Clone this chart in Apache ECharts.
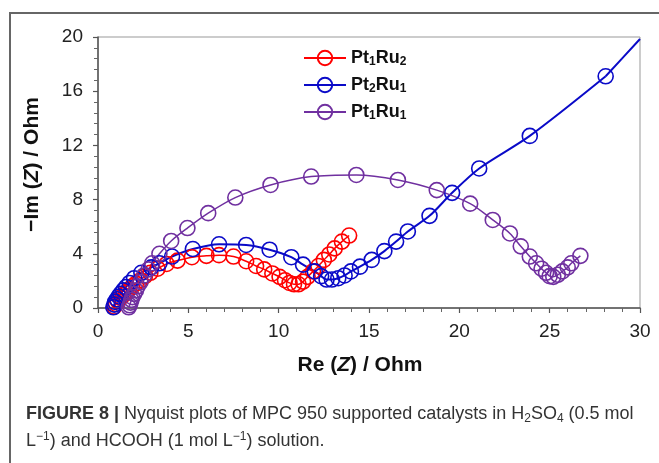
<!DOCTYPE html>
<html>
<head>
<meta charset="utf-8">
<script src="https://cdn.jsdelivr.net/npm/echarts@6/dist/echarts.min.js"></script>
<style>
  html, body { margin: 0; padding: 0; background: #fff; }
  #frame { position: absolute; left: 9px; top: 12px; width: 660px; height: 460px;
           border-top: 2px solid #666; border-left: 2px solid #666; }
  #main { position: absolute; left: 0; top: 0; width: 659px; height: 463px; }
</style>
</head>
<body>
<div id="frame"></div>
<div id="main"></div>
<script>
// Pt1Ru2 (red)
const pt1ru2Re = [0.9, 1.0, 1.1, 1.25, 1.4, 1.55, 1.7, 1.9, 2.1, 2.35, 2.6, 2.9, 3.3, 3.8, 4.4, 5.2, 6.0, 6.7, 7.5, 8.2, 8.75, 9.2, 9.65, 10.05, 10.35, 10.6, 10.85, 11.1, 11.35, 11.6, 11.9, 12.2, 12.5, 12.8, 13.1, 13.5, 13.9];
const pt1ru2Im = [0.1, 0.3, 0.5, 0.75, 0.95, 1.15, 1.35, 1.6, 1.8, 2.05, 2.35, 2.6, 2.9, 3.25, 3.5, 3.75, 3.85, 3.9, 3.8, 3.45, 3.1, 2.85, 2.55, 2.3, 2.05, 1.85, 1.75, 1.75, 1.95, 2.3, 2.7, 3.1, 3.55, 3.95, 4.4, 4.9, 5.35];
// Pt2Ru1 (blue)
const pt2ru1Re = [0.85, 0.9, 0.95, 1.05, 1.15, 1.25, 1.4, 1.55, 1.75, 2.0, 2.4, 2.95, 3.4, 4.1, 5.25, 6.7, 8.2, 9.5, 10.7, 11.35, 12.0, 12.35, 12.65, 12.95, 13.3, 13.65, 14.0, 14.5, 15.15, 15.85, 16.5, 17.15, 18.35, 19.6, 21.1, 23.9, 28.1];
const pt2ru1Im = [0.05, 0.25, 0.45, 0.65, 0.85, 1.05, 1.3, 1.55, 1.85, 2.2, 2.6, 3.0, 3.3, 3.8, 4.35, 4.7, 4.65, 4.3, 3.75, 3.2, 2.7, 2.35, 2.1, 2.1, 2.2, 2.4, 2.7, 3.05, 3.55, 4.2, 4.9, 5.65, 6.8, 8.5, 10.3, 12.7, 17.1];
// fitted curve tail of Pt2Ru1 beyond the last point
const pt2ru1TailRe = [28.1, 29.0, 30.0];
const pt2ru1TailIm = [17.1, 18.4, 19.85];
// Pt1Ru1 (purple)
const pt1ru1Re = [1.7, 1.75, 1.8, 1.85, 1.9, 2.0, 2.1, 2.2, 2.35, 2.55, 2.8, 3.0, 3.4, 4.05, 4.95, 6.1, 7.6, 9.55, 11.8, 14.3, 16.6, 18.75, 20.6, 21.85, 22.8, 23.4, 23.9, 24.25, 24.55, 24.8, 25.0, 25.2, 25.45, 25.7, 26.0, 26.2, 26.7];
const pt1ru1Im = [0.05, 0.2, 0.4, 0.6, 0.8, 1.05, 1.3, 1.6, 1.9, 2.4, 2.85, 3.3, 4.0, 4.95, 5.9, 7.0, 8.15, 9.08, 9.7, 9.82, 9.45, 8.7, 7.7, 6.5, 5.5, 4.55, 3.8, 3.3, 2.9, 2.6, 2.35, 2.3, 2.45, 2.7, 3.0, 3.3, 3.85];

const xTicks = [0, 5, 10, 15, 20, 25, 30];
const yTicks = [0, 4, 8, 12, 16, 20];

const zip = (a, b) => a.map((v, i) => [v, b[i]]);

const legendNames = {
  Pt1Ru2: '{b|Pt}{s|1}{b|Ru}{s|2}',
  Pt2Ru1: '{b|Pt}{s|2}{b|Ru}{s|1}',
  Pt1Ru1: '{b|Pt}{s|1}{b|Ru}{s|1}'
};

function curve(name, color, re, im, width) {
  return {
    name: name,
    type: 'line',
    smooth: 0.3,
    symbol: 'circle',
    symbolSize: 15,
    showAllSymbol: true,
    itemStyle: { color: 'rgba(255,255,255,0)', borderColor: color, borderWidth: 1.6 },
    lineStyle: { color: color, width: width },
    z: 3,
    data: zip(re, im)
  };
}

const capFont = 'Liberation Sans, Arial, sans-serif';
const chart = echarts.init(document.getElementById('main'));
chart.setOption({
  backgroundColor: 'transparent',
  animation: false,
  textStyle: { fontFamily: 'Liberation Sans, Arial, sans-serif' },
  title: {
    left: 21,
    top: 396,
    text: '{fb|FIGURE 8 |} {n|Nyquist plots of MPC 950 supported catalysts in H}{sub|2}{n|SO}{sub|4}{n| (0.5 mol}\n' +
          '{n|L}{sup|−1}{n|) and HCOOH (1 mol L}{sup|−1}{n|) solution.}',
    textStyle: {
      rich: {
        fb: { fontFamily: capFont, fontWeight: 'bold', fontSize: 18, color: '#333', lineHeight: 27 },
        n: { fontFamily: capFont, fontWeight: 'normal', fontSize: 18, color: '#333', lineHeight: 27 },
        sub: { fontFamily: capFont, fontWeight: 'normal', fontSize: 12, color: '#333', padding: [9, 0, 0, 0] },
        sup: { fontFamily: capFont, fontWeight: 'normal', fontSize: 12, color: '#333', padding: [0, 0, 9, 0] }
      }
    }
  },
  legend: {
    orient: 'vertical',
    left: 298,
    top: 44,
    itemWidth: 42,
    itemHeight: 18,
    itemGap: 8,
    data: ['Pt1Ru2', 'Pt2Ru1', 'Pt1Ru1'],
    formatter: name => legendNames[name],
    textStyle: {
      rich: {
        b: { fontSize: 18, fontWeight: 'bold', color: '#111' },
        s: { fontSize: 12, fontWeight: 'bold', color: '#111', padding: [8, 0, 0, 0] }
      }
    }
  },
  grid: {
    left: 98, right: 19, top: 37, bottom: 155,
    show: true, borderColor: '#999', borderWidth: 1
  },
  xAxis: {
    type: 'value',
    min: xTicks[0], max: xTicks[xTicks.length - 1], interval: 5,
    name: '{b|Re (}{i|Z}{b|) / Ohm}',
    nameLocation: 'middle',
    nameGap: 47,
    nameTextStyle: {
      padding: [0, 18, 0, 0],
      rich: {
        b: { fontSize: 21, fontWeight: 'bold', color: '#111' },
        i: { fontSize: 21, fontWeight: 'bold', fontStyle: 'italic', color: '#111' }
      }
    },
    axisLine: { lineStyle: { color: '#555', width: 1.5 } },
    axisTick: { length: 5, lineStyle: { color: '#555', width: 1.2 } },
    minorTick: { show: true, splitNumber: 5, length: 4, lineStyle: { color: '#666' } },
    splitLine: { show: false },
    axisLabel: { fontSize: 19, color: '#222', margin: 14 }
  },
  yAxis: {
    type: 'value',
    min: yTicks[0], max: yTicks[yTicks.length - 1], interval: 4,
    name: '{b|−Im (}{i|Z}{b|) / Ohm}',
    nameLocation: 'middle',
    nameGap: 55,
    nameTextStyle: {
      padding: [0, 0, 0, 16],
      rich: {
        b: { fontSize: 21, fontWeight: 'bold', color: '#111' },
        i: { fontSize: 21, fontWeight: 'bold', fontStyle: 'italic', color: '#111' }
      }
    },
    axisLine: { show: true, lineStyle: { color: '#555', width: 1.5 } },
    axisTick: { show: true, length: 5, lineStyle: { color: '#555', width: 1.2 } },
    minorTick: { show: true, splitNumber: 5, length: 4, lineStyle: { color: '#666' } },
    splitLine: { show: false },
    axisLabel: { fontSize: 19, color: '#222', margin: 15 }
  },
  series: [
    curve('Pt1Ru2', '#ff0000', pt1ru2Re, pt1ru2Im, 1.5),
    curve('Pt2Ru1', '#0a0ac8', pt2ru1Re, pt2ru1Im, 2),
    {
      name: 'Pt2Ru1 fit',
      type: 'line',
      smooth: true,
      showSymbol: false,
      lineStyle: { color: '#0a0ac8', width: 2 },
      data: zip(pt2ru1TailRe, pt2ru1TailIm)
    },
    curve('Pt1Ru1', '#7030a0', pt1ru1Re, pt1ru1Im, 1.5)
  ]
});
</script>
</body>
</html>
